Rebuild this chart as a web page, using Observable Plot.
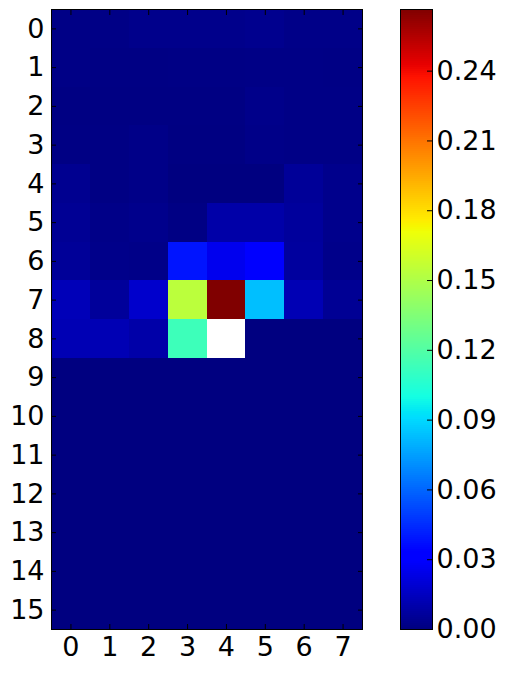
<!DOCTYPE html>
<html><head><meta charset="utf-8">
<script src="https://cdn.jsdelivr.net/npm/d3@7"></script>
<script src="https://cdn.jsdelivr.net/npm/@observablehq/plot@0.6"></script>
<style>
html,body{margin:0;padding:0;background:#fff;}
#wrap{position:relative;width:508px;height:673px;overflow:hidden;}
#heat{position:absolute;left:0;top:0;}
#bar{position:absolute;left:365px;top:0;}
</style></head><body><div id="wrap"><div id="heat"></div><div id="bar"></div></div>
<script>
const colLabels = [0, 1, 2, 3, 4, 5, 6, 7];
const rowLabels = [0, 1, 2, 3, 4, 5, 6, 7, 8, 9, 10, 11, 12, 13, 14, 15];
const colorbarTicks = [0, 0.03, 0.06, 0.09, 0.12, 0.15, 0.18, 0.21, 0.24];
const vmax = 0.2665;
// values[row][col]; null = missing (white)
const values = [
  [0.0015, 0.0015, 0.0027, 0.0027, 0.0027, 0.0033, 0.0020, 0.0020],
  [0.0015, 0.0010, 0.0010, 0.0012, 0.0012, 0.0015, 0.0015, 0.0012],
  [0.0008, 0.0008, 0.0008, 0.0008, 0.0008, 0.0024, 0.0015, 0.0015],
  [0.0010, 0.0010, 0.0020, 0.0005, 0.0005, 0.0020, 0.0015, 0.0015],
  [0.0038, 0.0010, 0.0020, 0.0000, 0.0000, 0.0000, 0.0056, 0.0029],
  [0.0047, 0.0020, 0.0029, 0.0010, 0.0093, 0.0093, 0.0066, 0.0029],
  [0.0056, 0.0024, 0.0020, 0.0385, 0.0254, 0.0306, 0.0070, 0.0024],
  [0.0129, 0.0061, 0.0176, 0.1538, 0.2665, 0.0832, 0.0121, 0.0047],
  [0.0121, 0.0121, 0.0093, 0.1130, null,   0.0000, 0.0000, 0.0000],
  [0, 0, 0, 0, 0, 0, 0, 0],
  [0, 0, 0, 0, 0, 0, 0, 0],
  [0, 0, 0, 0, 0, 0, 0, 0],
  [0, 0, 0, 0, 0, 0, 0, 0],
  [0, 0, 0, 0, 0, 0, 0, 0],
  [0, 0, 0, 0, 0, 0, 0, 0],
  [0, 0, 0, 0, 0, 0, 0, 0]
];

// matplotlib "jet" segment data
const jetR = [[0, 0], [0.35, 0], [0.66, 1], [0.89, 1], [1, 0.5]];
const jetG = [[0, 0], [0.125, 0], [0.375, 1], [0.64, 1], [0.91, 0], [1, 0]];
const jetB = [[0, 0.5], [0.11, 1], [0.34, 1], [0.65, 0], [1, 0]];
function seg(s, t) {
  t = Math.max(0, Math.min(1, t));
  for (let i = 1; i < s.length; i++) {
    if (t <= s[i][0]) {
      const [t0, v0] = s[i - 1], [t1, v1] = s[i];
      return v0 + (v1 - v0) * (t - t0) / (t1 - t0);
    }
  }
  return s[s.length - 1][1];
}
function jet(t) {
  const r = Math.round(seg(jetR, t) * 255), g = Math.round(seg(jetG, t) * 255), b = Math.round(seg(jetB, t) * 255);
  return `rgb(${r},${g},${b})`;
}

const cells = [];
values.forEach((row, i) => row.forEach((v, j) => cells.push({row: rowLabels[i], col: colLabels[j], value: v})));

const colorScale = {type: "linear", domain: [0, vmax], interpolate: jet, clamp: true};
const font = {fontFamily: "'DejaVu Sans', sans-serif", fontSize: "27px", background: "white", color: "black", overflow: "visible"};

const heat = Plot.plot({
  width: 365, height: 673,
  marginLeft: 51, marginRight: 3, marginTop: 9, marginBottom: 44,
  style: font,
  x: {type: "band", domain: colLabels, padding: 0, round: false, label: null},
  y: {type: "band", domain: rowLabels, padding: 0, round: false, label: null},
  color: colorScale,
  marks: [
    Plot.cell(cells, {x: "col", y: "row", fill: "value", inset: 0, shapeRendering: "crispEdges"}),
    Plot.frame({stroke: "black", strokeWidth: 1}),
    Plot.axisX({anchor: "bottom", tickSize: -5, tickPadding: 12, label: null}),
    Plot.axisX({anchor: "top", tickSize: -5, tickFormat: () => "", label: null}),
    Plot.axisY({anchor: "left", tickSize: -5, tickPadding: 12, label: null}),
    Plot.axisY({anchor: "right", tickSize: -5, tickFormat: () => "", label: null})
  ]
});
document.getElementById("heat").appendChild(heat);

const nSteps = 310;
const steps = d3.range(nSteps).map(i => ({y1: vmax * i / nSteps, y2: vmax * (i + 1) / nSteps, mid: vmax * (i + 0.5) / nSteps}));

const bar = Plot.plot({
  width: 143, height: 673,
  marginLeft: 35, marginRight: 76, marginTop: 9, marginBottom: 44,
  style: font,
  y: {domain: [0, vmax], label: null},
  color: colorScale,
  marks: [
    Plot.rect(steps, {y1: "y1", y2: "y2", fill: "mid", shapeRendering: "crispEdges"}),
    Plot.frame({stroke: "black", strokeWidth: 1}),
    Plot.axisY(colorbarTicks, {anchor: "right", tickSize: -6, tickPadding: 10, tickFormat: d3.format(".2f"), label: null})
  ]
});
document.getElementById("bar").appendChild(bar);
</script></body></html>
